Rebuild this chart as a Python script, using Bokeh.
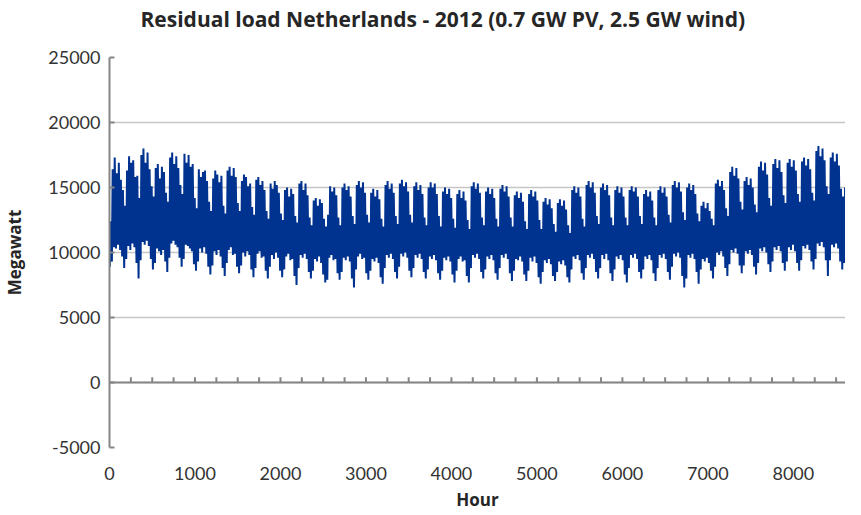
from bokeh.plotting import figure
from bokeh.models import (SingleIntervalTicker, Span, Title, ColumnDataSource, Range1d,
                          PrintfTickFormatter)
from bokeh.embed import file_html
from bokeh.resources import INLINE

# ---- data: daily high / low residual load in MW ----
# Day 0 = Sunday 1 Jan 2012, then weeks Monday..Sunday, last entry = Monday 31 Dec
daily_high = [12400,
    16400, 17300, 16100, 16900, 15600, 14800, 13600,
    16300, 17400, 16900, 17100, 15800, 15900, 14200,
    17500, 18000, 16900, 17700, 16400, 15100, 14300,
    16500, 16800, 15700, 16600, 16200, 14600, 13900,
    17300, 17700, 16800, 17400, 16500, 15200, 14500,
    17600, 16900, 17500, 16600, 16800, 14200, 13400,
    16400, 15800, 16200, 16300, 15500, 13900, 13200,
    15700, 16300, 16000, 15400, 15900, 13600, 13000,
    16300, 16600, 15900, 16500, 15800, 13800, 13200,
    15500, 16000, 15800, 15100, 15300, 13500, 12900,
    15600, 15800, 15200, 15500, 14800, 13200, 12600,
    15300, 14900, 15500, 15200, 14600, 13000, 12500,
    14800, 15000, 14300, 14900, 14500, 12800, 12300,
    15300, 15500, 14800, 15300, 14400, 12700, 12100,
    14000, 14200, 13600, 14100, 13800, 12600, 12000,
    12900, 15100, 14700, 15000, 14400, 12700, 12100,
    15000, 15300, 14800, 15100, 14300, 12800, 12200,
    15200, 15500, 15000, 15400, 14600, 12900, 12300,
    14600, 14900, 14300, 14800, 14100, 12600, 12000,
    15200, 15500, 14900, 15300, 14600, 12800, 12200,
    15300, 15600, 15100, 15400, 14700, 12900, 12300,
    15100, 15400, 14800, 15200, 14500, 12700, 12100,
    15000, 15400, 15000, 15300, 14500, 12800, 12000,
    14700, 15000, 14500, 14900, 14200, 12600, 11900,
    14500, 14800, 14200, 14700, 14000, 12500, 11800,
    15100, 15400, 14900, 15300, 14600, 12700, 12100,
    14700, 15000, 14500, 14900, 14200, 12600, 12000,
    14900, 15200, 14700, 15100, 14300, 12700, 12000,
    14400, 14700, 14200, 14600, 13900, 12400, 11800,
    14500, 14800, 14300, 14700, 14000, 12500, 11800,
    13900, 14200, 13700, 14100, 13400, 12200, 11600,
    13800, 14100, 13600, 14000, 13300, 12100, 11500,
    14800, 15100, 14600, 15000, 14300, 12600, 12000,
    15200, 15500, 15000, 15400, 14600, 12800, 12200,
    15000, 15300, 14800, 15200, 14400, 12700, 12100,
    14800, 15100, 14600, 15000, 14300, 12700, 12100,
    14800, 15100, 14700, 15000, 14300, 12800, 12200,
    14500, 14800, 14300, 14700, 14000, 12700, 12100,
    14800, 15100, 14600, 15000, 14300, 12900, 12300,
    15200, 15500, 15000, 15400, 14700, 13100, 12500,
    15000, 15300, 14800, 15200, 14500, 13000, 12400,
    13600, 13900, 13400, 13800, 13200, 12600, 12100,
    15300, 15600, 15100, 15500, 14800, 13400, 12800,
    16200, 16600, 15900, 16500, 15700, 13900, 13300,
    15500, 15800, 15200, 15700, 15000, 13700, 13100,
    16600, 17000, 16300, 16900, 16000, 14200, 13600,
    16800, 17200, 16500, 17100, 16200, 14400, 13800,
    16900, 17200, 16600, 17100, 16300, 14500, 13900,
    17000, 17300, 16700, 17200, 16400, 14600, 14000,
    17800, 18200, 17400, 18000, 17100, 15100, 14500,
    17300, 17700, 17000, 17600, 16700, 14900, 14300,
    15000, 13200, 12100, 14500, 14200, 13500, 12900,
    13200]

daily_low = [8900,
    9300, 10400, 10300, 10600, 10200, 9700, 8800,
    9500, 10500, 10200, 10700, 10400, 9200, 8000,
    9400, 10800, 10600, 10900, 10500, 9500, 8700,
    9200, 10300, 10100, 9800, 10200, 9300, 8500,
    9600, 10700, 10900, 10600, 10400, 9600, 8900,
    9500, 10600, 10500, 10300, 10100, 9100, 8600,
    9300, 10300, 10000, 10400, 9900, 8900, 8300,
    9000, 10100, 9800, 10200, 9700, 8800, 8200,
    9200, 10200, 10400, 9800, 9900, 8900, 8400,
    9000, 10000, 9700, 10100, 9800, 8700, 8100,
    8800, 9900, 10100, 9600, 9700, 8600, 8000,
    8900, 9800, 9500, 10000, 9600, 8600, 8100,
    8700, 9700, 9900, 9400, 9500, 8200, 7500,
    8800, 9800, 9600, 9900, 9500, 8500, 8000,
    8600, 9500, 9300, 9700, 9200, 8300, 7700,
    7900, 9600, 9800, 9400, 9500, 8400, 7900,
    8500, 9600, 9400, 9700, 9300, 8000, 7300,
    8700, 9700, 9900, 9500, 9600, 8400, 7900,
    8600, 9500, 9300, 9600, 9200, 8100, 7600,
    8800, 9800, 9600, 9900, 9500, 8500, 8000,
    8900, 9900, 9700, 10000, 9600, 8600, 8100,
    8800, 9800, 9600, 9900, 9500, 8500, 8000,
    8700, 9700, 9500, 9800, 9400, 8400, 7900,
    8600, 9600, 9400, 9700, 9300, 8300, 7700,
    8600, 9500, 9700, 9300, 9400, 8200, 7700,
    8800, 9800, 9600, 9900, 9500, 8500, 8000,
    8700, 9700, 9500, 9800, 9400, 8400, 7900,
    8800, 9800, 9600, 9900, 9500, 8400, 7800,
    8600, 9500, 9400, 9700, 9300, 8300, 7800,
    8600, 9600, 9300, 9700, 9200, 8100, 7600,
    8500, 9400, 9200, 9500, 9100, 8200, 7800,
    8500, 9300, 9100, 9400, 9000, 8100, 7700,
    8700, 9700, 9500, 9800, 9400, 8400, 7900,
    8800, 9800, 9600, 9900, 9500, 8500, 8000,
    8800, 9800, 9500, 9900, 9400, 8400, 7800,
    8700, 9700, 9500, 9800, 9400, 8300, 7700,
    8800, 9800, 9600, 9900, 9500, 8500, 8000,
    8700, 9700, 9500, 9800, 9400, 8400, 7800,
    8800, 9800, 9600, 9900, 9500, 8500, 7900,
    8900, 9900, 9700, 10000, 9600, 8200, 7300,
    8000, 9800, 9600, 9900, 9500, 8500, 7600,
    8700, 9500, 9300, 9600, 9200, 8600, 8000,
    8900, 10000, 9800, 10100, 9700, 8800, 8200,
    9100, 10200, 10000, 10300, 9900, 9000, 8400,
    9000, 10100, 9900, 10200, 9800, 8900, 8300,
    9200, 10300, 10100, 10400, 10000, 9100, 8500,
    9300, 10400, 10200, 10500, 10100, 9200, 8600,
    9300, 10400, 10200, 10600, 10100, 9200, 8600,
    9400, 10500, 10300, 10600, 10200, 9300, 8700,
    9500, 10700, 10500, 10800, 10400, 9400, 8200,
    9400, 10600, 10400, 10700, 10300, 9300, 8700,
    9200, 8300, 8000, 9500, 9300, 8600, 7800,
    8600]

y_ticks_interval = 5000
x_label_interval = 1000
x_minor_tick_interval = 250
total_hours = 24 * len(daily_high)

# night minimum around 04:00, daytime maximum around 13:00
hours, load = [], []
for d, (lo, hi) in enumerate(zip(daily_low, daily_high)):
    hours += [24 * d + 4, 24 * d + 13]
    load += [lo, hi]

FONT = "Lato"
BOLD_FONT = "Open Sans"
TXT = "#333333"

p = figure(width=845, height=513, output_backend="svg", toolbar_location=None,
           x_range=Range1d(0, 8610), y_range=Range1d(-5000, 25000),
           min_border_left=102, min_border_right=0, min_border_top=57, min_border_bottom=66)
p.outline_line_color = None
p.background_fill_color = "white"

p.title = Title(text="Residual load Netherlands - 2012 (0.7 GW PV, 2.5 GW wind)",
                align="left", offset=31, vertical_align="bottom", standoff=4,
                text_font=BOLD_FONT, text_font_size="21px", text_font_style="bold",
                text_color="#262626")
# empty spacer between the title and the plot frame
p.add_layout(Title(text=" ", text_font_size="1px", standoff=20), "above")

# grid
p.ygrid.ticker = SingleIntervalTicker(interval=y_ticks_interval)
p.ygrid.grid_line_color = "#C6C6C6"
p.ygrid.grid_line_width = 1.3
p.xgrid.grid_line_color = None

# y axis
p.yaxis.ticker = SingleIntervalTicker(interval=y_ticks_interval)
p.yaxis.formatter = PrintfTickFormatter(format="%d")
p.yaxis.axis_line_color = "#868686"
p.yaxis.axis_line_width = 2
p.yaxis.major_tick_line_color = "#868686"
p.yaxis.major_tick_line_width = 2
p.yaxis.major_tick_in = 5
p.yaxis.major_tick_out = 0
p.yaxis.minor_tick_line_color = None
p.yaxis.major_label_standoff = 5
p.yaxis.axis_label = "Megawatt"
p.yaxis.axis_label_standoff = 19

# x axis (labels at bottom)
p.xaxis.ticker = SingleIntervalTicker(interval=x_label_interval)
p.xaxis.axis_line_color = None
p.xaxis.major_tick_line_color = None
p.xaxis.minor_tick_line_color = None
p.xaxis.major_label_standoff = 13
p.xaxis.axis_label = "Hour"
p.xaxis.axis_label_standoff = 5

for ax in (p.xaxis, p.yaxis):
    ax.major_label_text_font = FONT
    ax.major_label_text_font_size = "18px"
    ax.major_label_text_color = TXT
    ax.axis_label_text_font = BOLD_FONT
    ax.axis_label_text_font_size = "17px"
    ax.axis_label_text_font_style = "bold"
    ax.axis_label_text_color = "#262626"

# series
src = ColumnDataSource(dict(hour=hours, load=load))
p.line("hour", "load", source=src, line_color="#00338F", line_width=2)

# horizontal axis line crossing at 0 with small upward ticks
p.add_layout(Span(location=0, dimension="width", line_color="#868686", line_width=2))
tick_x = list(range(x_minor_tick_interval, total_hours, x_minor_tick_interval))
p.segment(x0=tick_x, y0=[0] * len(tick_x), x1=tick_x, y1=[400] * len(tick_x),
          line_color="#868686", line_width=2)

open("out.html", "w").write(file_html(p, INLINE))
